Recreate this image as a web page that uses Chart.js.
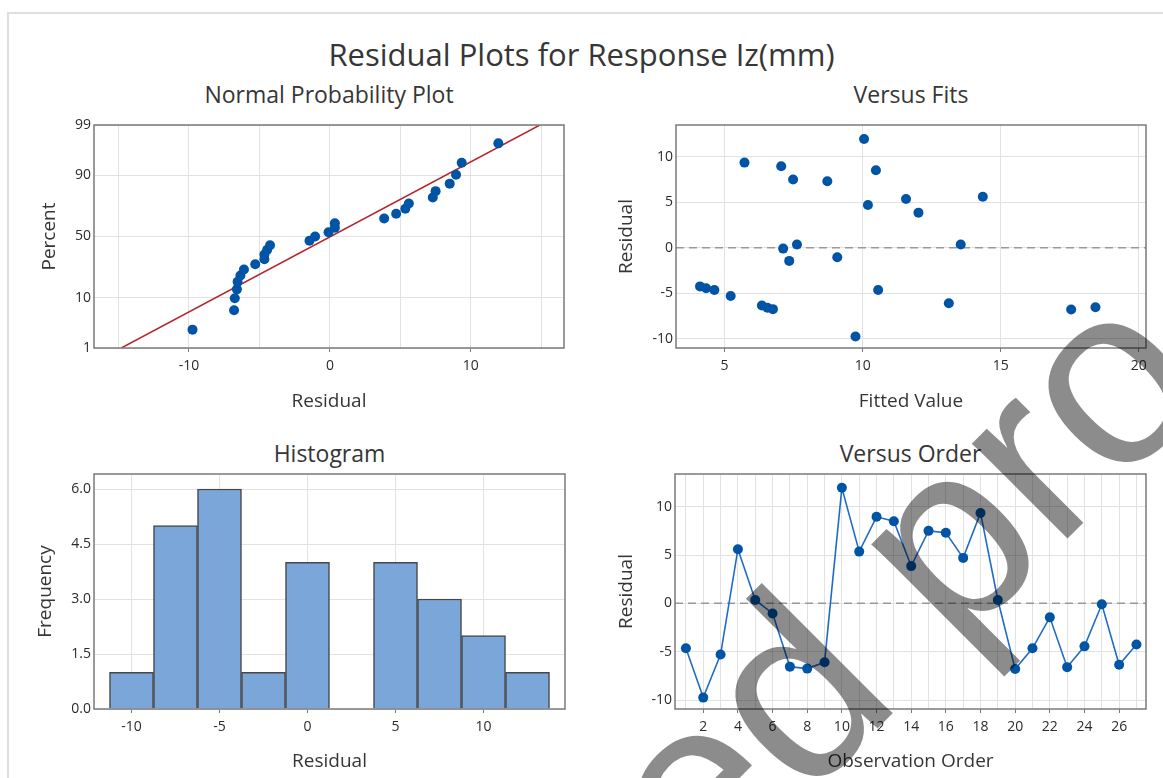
<!DOCTYPE html>
<html>
<head>
<meta charset="utf-8">
<title>Residual Plots for Response Iz(mm)</title>
<script src="https://cdn.jsdelivr.net/npm/chart.js@4.4.1/dist/chart.umd.min.js"></script>
<style>
  html, body { margin: 0; padding: 0; background: #fff; }
  body { width: 1163px; height: 778px; position: relative; overflow: hidden; font-family: 'Open Sans', sans-serif; }
  .frame { position: absolute; left: 7px; top: 12px; width: 1200px; height: 800px; border: 2px solid #dedede; }
  canvas { position: absolute; }
  .title { position: absolute; text-align: center; white-space: nowrap; color: #363636; }
  #main-title { left: 0; width: 1163px; top: 35px; font-size: 31px; line-height: 38px; }
  .sub { font-size: 23px; line-height: 28px; }
  #mark { position: absolute; left: 0; top: 0; pointer-events: none; }
</style>
</head>
<body>
<div class="frame"></div>
<div class="title" id="main-title">Residual Plots for Response Iz(mm)</div>
<div class="title sub" style="left:94px;width:470px;top:80px;">Normal Probability Plot</div>
<div class="title sub" style="left:676px;width:470px;top:80px;">Versus Fits</div>
<div class="title sub" style="left:94px;width:471px;top:439px;">Histogram</div>
<div class="title sub" style="left:675px;width:471px;top:439px;">Versus Order</div>

<canvas id="np" width="600" height="310" style="left:0;top:110px;"></canvas>
<canvas id="fits" width="563" height="310" style="left:600px;top:110px;"></canvas>
<canvas id="hist" width="600" height="318" style="left:0;top:460px;"></canvas>
<canvas id="order" width="563" height="318" style="left:600px;top:460px;"></canvas>

<svg id="mark" width="1163" height="778">
  <text x="704" y="902" transform="rotate(-45 704 902)" font-family="Liberation Sans, Arial, sans-serif" font-size="255" fill="rgba(0,0,0,0.45)">ed pro</text>
</svg>

<script>
// residuals and fitted values, in observation order
const obsOrder = [1, 2, 3, 4, 5, 6, 7, 8, 9, 10, 11, 12, 13, 14, 15, 16, 17, 18, 19, 20, 21, 22, 23, 24, 25, 26, 27];
const residuals = [-4.65, -9.75, -5.3, 5.6, 0.35, -1.05, -6.55, -6.75, -6.1, 11.95, 5.35, 8.95, 8.5, 3.85,
                   7.5, 7.3, 4.7, 9.35, 0.35, -6.8, -4.65, -1.45, -6.6, -4.45, -0.1, -6.35, -4.25];
const fits = [4.63, 9.74, 5.22, 14.35, 7.62, 9.08, 18.43, 6.75, 13.12, 10.05, 11.57, 7.05, 10.48, 12.02,
              7.48, 8.72, 10.19, 5.72, 13.55, 17.55, 10.56, 7.34, 6.55, 4.33, 7.12, 6.35, 4.11];

// normal probability plot: percent for each sorted residual, and the fitted line
const npPercent = [2.6, 6.2, 9.9, 13.5, 17.2, 20.8, 24.5, 28.1, 31.8, 35.4, 39.1, 42.7, 46.4, 50.0,
                   53.6, 57.3, 60.9, 64.6, 68.2, 71.9, 75.5, 79.2, 82.8, 86.5, 90.1, 93.8, 97.4];
const npLineX = [-14.8, 14.9];
const npLineP = [1, 99];

// histogram
const histBins = [-10, -7.5, -5, -2.5, 0, 2.5, 5, 7.5, 10, 12.5];
const histCounts = [1, 5, 6, 1, 4, 0, 4, 3, 2, 1];

// ticks
const npXTicks = [-15, -10, -5, 0, 5, 10, 15];
const npXLabels = [-10, 0, 10];
const npYTicks = [1, 10, 50, 90, 99];
const fitsXTicks = [5, 10, 15, 20];
const residTicks = [-10, -5, 0, 5, 10];
const histXTicks = [-10, -5, 0, 5, 10];
const histYTicks = [0, 1.5, 3, 4.5, 6];
const orderXLabels = [2, 4, 6, 8, 10, 12, 14, 16, 18, 20, 22, 24, 26];

const BLUE = '#0054a5';

Chart.defaults.font.family = "'Open Sans', sans-serif";
Chart.defaults.color = '#2b2b2b';

// inverse normal cdf (Acklam)
function probit(p) {
    const a = [-3.969683028665376e+01, 2.209460984245205e+02, -2.759285104469687e+02, 1.383577518672690e+02, -3.066479806614716e+01, 2.506628277459239e+00];
    const b = [-5.447609879822406e+01, 1.615858368580409e+02, -1.556989798598866e+02, 6.680131188771972e+01, -1.328068155288572e+01];
    const c = [-7.784894002430293e-03, -3.223964580411365e-01, -2.400758277161838e+00, -2.549732539343734e+00, 4.374664141464968e+00, 2.938163982698783e+00];
    const d = [7.784695709041462e-03, 3.224671290700398e-01, 2.445134137142996e+00, 3.754408661907416e+00];
    const lo = 0.02425;
    let q, r;
    if (p < lo) {
        q = Math.sqrt(-2 * Math.log(p));
        return (((((c[0] * q + c[1]) * q + c[2]) * q + c[3]) * q + c[4]) * q + c[5]) / ((((d[0] * q + d[1]) * q + d[2]) * q + d[3]) * q + 1);
    }
    if (p <= 1 - lo) {
        q = p - 0.5;
        r = q * q;
        return (((((a[0] * r + a[1]) * r + a[2]) * r + a[3]) * r + a[4]) * r + a[5]) * q / (((((b[0] * r + b[1]) * r + b[2]) * r + b[3]) * r + b[4]) * r + 1);
    }
    q = Math.sqrt(-2 * Math.log(1 - p));
    return -(((((c[0] * q + c[1]) * q + c[2]) * q + c[3]) * q + c[4]) * q + c[5]) / ((((d[0] * q + d[1]) * q + d[2]) * q + d[3]) * q + 1);
}

function normCdf(z) {
    const t = 1 / (1 + 0.3275911 * Math.abs(z) / Math.SQRT2);
    const y = 1 - (((((1.061405429 * t - 1.453152027) * t) + 1.421413741) * t - 0.284496736) * t + 0.254829592) * t * Math.exp(-z * z / 2);
    return z >= 0 ? (1 + y) / 2 : (1 - y) / 2;
}

// percent axis on a normal probability scale
class ProbitScale extends Chart.LinearScale {
    getPixelForValue(value) {
        const z0 = probit(this.min / 100);
        const z1 = probit(this.max / 100);
        return this.getPixelForDecimal((probit(value / 100) - z0) / (z1 - z0));
    }
    getValueForPixel(pixel) {
        const z0 = probit(this.min / 100);
        const z1 = probit(this.max / 100);
        return 100 * normCdf(z0 + this.getDecimalForPixel(pixel) * (z1 - z0));
    }
}
ProbitScale.id = 'probit';
ProbitScale.defaults = {};
Chart.register(ProbitScale);

const framePlugin = {
    id: 'frame',
    afterDatasetsDraw(chart) {
        const { ctx, chartArea: a } = chart;
        ctx.save();
        ctx.strokeStyle = '#7a7a7a';
        ctx.lineWidth = 1.5;
        ctx.strokeRect(a.left, a.top, a.right - a.left, a.bottom - a.top);
        ctx.restore();
    }
};

const zeroLinePlugin = {
    id: 'zeroLine',
    beforeDatasetsDraw(chart) {
        const { ctx, chartArea: a } = chart;
        const y = chart.scales.y.getPixelForValue(0);
        ctx.save();
        ctx.strokeStyle = '#999';
        ctx.lineWidth = 1.5;
        ctx.setLineDash([8, 5]);
        ctx.beginPath();
        ctx.moveTo(a.left, y);
        ctx.lineTo(a.right, y);
        ctx.stroke();
        ctx.restore();
    }
};

function axis(o) {
    const shown = o.labels || o.ticks;
    const horizontal = !!o.height;
    return {
        type: o.type || 'linear',
        min: o.min,
        max: o.max,
        offset: false,
        afterBuildTicks: s => { s.ticks = o.ticks.map(v => ({ value: v })); },
        afterFit: s => {
            if (o.width) s.width = o.width;
            if (o.height) s.height = o.height;
        },
        grid: {
            color: '#e2e2e2',
            lineWidth: 1,
            offset: false,
            drawTicks: horizontal,
            tickLength: 4,
            tickColor: ctx => shown.includes(ctx.tick.value) ? '#7a7a7a' : 'rgba(0,0,0,0)'
        },
        border: { display: false },
        ticks: {
            padding: horizontal ? 6 : 3,
            color: '#2b2b2b',
            font: { size: 14 },
            maxRotation: 0,
            autoSkip: false,
            callback: v => shown.includes(v) ? (o.fmt ? o.fmt(v) : String(v)) : ''
        },
        title: {
            display: true,
            text: o.title,
            color: '#363636',
            font: { size: 19 },
            padding: o.titlePad
        }
    };
}

function baseOptions(pad, scales) {
    return {
        responsive: false,
        animation: false,
        layout: { padding: pad },
        plugins: { legend: { display: false }, tooltip: { enabled: false } },
        scales: scales
    };
}

const npResiduals = [...residuals].sort((a, b) => a - b);

new Chart(document.getElementById('np'), {
    type: 'scatter',
    data: {
        datasets: [
            {
                data: npResiduals.map((x, i) => ({ x: x, y: npPercent[i] })),
                backgroundColor: BLUE, pointRadius: 5, borderWidth: 0, order: 0
            },
            {
                data: npLineX.map((x, i) => ({ x: x, y: npLineP[i] })),
                showLine: true, borderColor: '#b3262c', borderWidth: 1.5, pointRadius: 0, order: 1
            }
        ]
    },
    plugins: [framePlugin],
    options: baseOptions({ left: 0, top: 15, right: 36, bottom: 0 }, {
        x: axis({ min: -16.74, max: 16.61, ticks: npXTicks, labels: npXLabels, height: 72,
                  title: 'Residual', titlePad: { top: 0, bottom: 7.5 } }),
        y: axis({ type: 'probit', min: 1, max: 99, ticks: npYTicks, width: 94,
                  title: 'Percent', titlePad: { top: 38.5, bottom: 0 } })
    })
});

new Chart(document.getElementById('fits'), {
    type: 'scatter',
    data: {
        datasets: [{
            data: fits.map((x, i) => ({ x: x, y: residuals[i] })),
            backgroundColor: BLUE, pointRadius: 5, borderWidth: 0
        }]
    },
    plugins: [zeroLinePlugin, framePlugin],
    options: baseOptions({ left: 0, top: 15, right: 17, bottom: 0 }, {
        x: axis({ min: 3.24, max: 20.26, ticks: fitsXTicks, height: 72,
                  title: 'Fitted Value', titlePad: { top: 0, bottom: 7.5 } }),
        y: axis({ min: -11.02, max: 13.48, ticks: residTicks, width: 76,
                  title: 'Residual', titlePad: { top: 15.5, bottom: 0 } })
    })
});

new Chart(document.getElementById('hist'), {
    type: 'bar',
    data: {
        datasets: [{
            data: histBins.map((x, i) => ({ x: x, y: histCounts[i] })),
            backgroundColor: '#7ba6d9',
            borderColor: '#474747',
            borderWidth: 1.5,
            barPercentage: 1,
            categoryPercentage: 1
        }]
    },
    plugins: [framePlugin],
    options: baseOptions({ left: 0, top: 14, right: 35, bottom: 0 }, {
        x: axis({ min: -12.13, max: 14.63, ticks: histXTicks, height: 69,
                  title: 'Residual', titlePad: { top: 0, bottom: 5.5 } }),
        y: axis({ min: 0, max: 6.41, ticks: histYTicks, width: 94, fmt: v => v.toFixed(1),
                  title: 'Frequency', titlePad: { top: 34.5, bottom: 0 } })
    })
});

new Chart(document.getElementById('order'), {
    type: 'scatter',
    data: {
        datasets: [{
            data: obsOrder.map((x, i) => ({ x: x, y: residuals[i] })),
            showLine: true,
            borderColor: '#1f6cc6',
            borderWidth: 1.6,
            pointBackgroundColor: BLUE,
            pointBorderWidth: 0,
            pointRadius: 5
        }]
    },
    plugins: [zeroLinePlugin, framePlugin],
    options: baseOptions({ left: 0, top: 14, right: 17, bottom: 0 }, {
        x: axis({ min: 0.37, max: 27.55, ticks: obsOrder, labels: orderXLabels, height: 69,
                  title: 'Observation Order', titlePad: { top: 0, bottom: 5.5 } }),
        y: axis({ min: -10.93, max: 13.38, ticks: residTicks, width: 75,
                  title: 'Residual', titlePad: { top: 15.5, bottom: 0 } })
    })
});
</script>
</body>
</html>
